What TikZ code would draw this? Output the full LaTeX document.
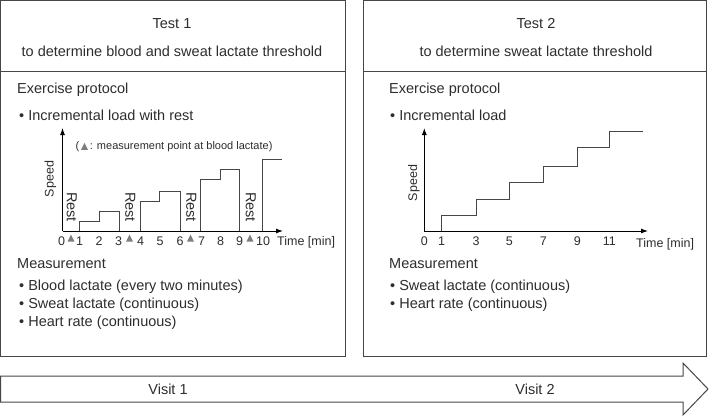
\documentclass[tikz,border=0pt]{standalone}
\usepackage{fontspec}
\setmainfont{Liberation Sans}
\usepackage{xcolor}
\usepackage{tikz}
\usetikzlibrary{arrows.meta}
\definecolor{LineaGris}{RGB}{70,70,70}
\definecolor{TextoGris}{RGB}{45,45,45}
\definecolor{MarcaGris}{RGB}{125,125,125}
\newcommand{\marca}{\tikz[baseline=0pt]\fill[MarcaGris] (0pt,0pt) -- (7pt,0pt) -- (3.5pt,7pt) -- cycle;}

\tikzset{
  big/.style={font=\fontsize{14.5}{17}\selectfont,text=TextoGris,inner sep=0pt},
  small/.style={font=\fontsize{12.5}{14}\selectfont,text=TextoGris,inner sep=0pt},
  tiny/.style={font=\fontsize{11}{13}\selectfont,text=TextoGris,inner sep=0pt},
  panel/.style={draw=LineaGris,line width=1pt},
  stair/.style={draw=LineaGris,line width=1pt},
  axis/.style={draw=black,line width=0.9pt,-{Latex[length=7pt,width=5pt]}}
}

\begin{document}
\begin{tikzpicture}[x=1pt,y=-1pt,>=Latex]
  \useasboundingbox (0,0) rectangle (709,416);
  % panels
  \draw[panel] (0.5,0.5) rectangle (345,356);
  \draw[panel] (0.5,71) -- (345,71);
  \draw[panel] (363,0.5) rectangle (706,356);
  \draw[panel] (363,71) -- (706,71);
  \node[big] (t1) at (172,24) {Test 1};
  \node[big] (t1sub) at (172,51) {to determine blood and sweat lactate threshold};
  \node[big] (t2) at (536,24) {Test 2};
  \node[big] (t2sub) at (536,51) {to determine sweat lactate threshold};

  % test 1
  \node[big,anchor=west] (ep1) at (17,90) {Exercise protocol};
  \node[big,anchor=west] (il1) at (19,115) {• Incremental load with rest};
  \coordinate (o1) at (62.5,231);
  \draw[axis] (o1) -- (62.5,128);
  \draw[axis] (o1) -- (283,231);
  \node[small,rotate=90] (sp1) at (50.5,179) {Speed};
  \node[tiny] (note) at (174,147) {(\,\marca\,: measurement point at blood lactate)};
  \draw[stair] (79.3,231) -- (79.3,221) -- (99,221) -- (99,211.7) -- (119,211.7) -- (119,231);
  \draw[stair] (140,231) -- (140,201) -- (159.7,201) -- (159.7,191) -- (180,191) -- (180,231);
  \draw[stair] (200.5,231) -- (200.5,179) -- (220,179) -- (220,169) -- (239.3,169) -- (239.3,231);
  \draw[stair] (262.3,231) -- (262.3,159) -- (282,159);
  \foreach \x/\lab in {61.7/0,79.5/1,99/2,118.7/3,140.5/4,160/5,180/6,201.7/7,220.7/8,239.5/9,263/10}
    \node[small] (tk1-\lab) at (\x,241.5) {\lab};
  \foreach \x [count=\i] in {71,129.5,190.5,250}{
    \fill[MarcaGris] (\x-3.5,241.5) -- (\x+3.5,241.5) -- (\x,234.5) -- cycle;
    \node[big,rotate=-90] (rest\i) at (\x+0.8,207) {Rest};
  }
  \node[small,anchor=west] (time1) at (277,242.5) {Time [min]};
  \node[big,anchor=west] (ms1) at (17,264) {Measurement};
  \node[big,anchor=west] (ms1a) at (19,287) {• Blood lactate (every two minutes)};
  \node[big,anchor=west] (ms1b) at (19,305) {• Sweat lactate (continuous)};
  \node[big,anchor=west] (ms1c) at (19,323) {• Heart rate (continuous)};

  % test 2
  \node[big,anchor=west] (ep2) at (389,90) {Exercise protocol};
  \node[big,anchor=west] (il2) at (390,115) {• Incremental load};
  \coordinate (o2) at (424.3,231);
  \draw[axis] (o2) -- (424.3,128);
  \draw[axis] (o2) -- (648,231);
  \node[small,rotate=90] (sp2) at (414,183) {Speed};
  \draw[stair] (441.7,231) -- (441.7,215.7) -- (476,215.7) -- (476,199) -- (509.3,199) -- (509.3,182.3)
    -- (543.3,182.3) -- (543.3,166) -- (577.3,166) -- (577.3,147.7) -- (609.3,147.7) -- (609.3,131) -- (643.3,131);
  \foreach \x/\lab in {424.3/0,441.7/1,476/3,509.3/5,543.3/7,577.3/9,609.3/11}
    \node[small] (tk2-\lab) at (\x,241.5) {\lab};
  \node[small,anchor=west] (time2) at (636,244) {Time [min]};
  \node[big,anchor=west] (ms2) at (389,264) {Measurement};
  \node[big,anchor=west] (ms2a) at (390,287) {• Sweat lactate (continuous)};
  \node[big,anchor=west] (ms2b) at (390,305) {• Heart rate (continuous)};

  % visits
  \draw[panel] (0.5,376) -- (683,376) -- (683,363) -- (708,389) -- (683,415) -- (683,402) -- (0.5,402) -- cycle;
  \node[big] (v1) at (168,389) {Visit 1};
  \node[big] (v2) at (535,389) {Visit 2};
\end{tikzpicture}
\end{document}
